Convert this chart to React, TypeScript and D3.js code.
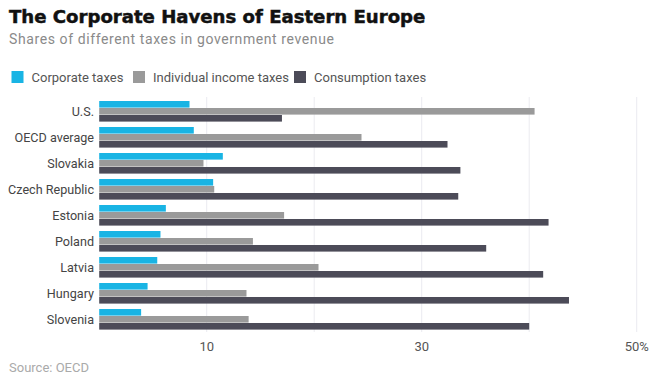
import React from 'react'
import { scaleBand, scaleLinear } from 'd3'

const countries = ['U.S.', 'OECD average', 'Slovakia', 'Czech Republic', 'Estonia', 'Poland', 'Latvia', 'Hungary', 'Slovenia']
const corporate = [8.4, 8.8, 11.5, 10.6, 6.2, 5.7, 5.4, 4.5, 3.9]
const individual = [40.5, 24.4, 9.7, 10.7, 17.2, 14.3, 20.4, 13.7, 13.9]
const consumption = [17.0, 32.4, 33.6, 33.4, 41.8, 36.0, 41.3, 43.7, 40.0]

const seriesNames = ['Corporate taxes', 'Individual income taxes', 'Consumption taxes']
const seriesColors = ['#19b4e4', '#9a9a9a', '#4c4b58']
const gridTicks = [10, 20, 30, 40, 50]
const tickLabels = [
  { v: 10, label: '10' },
  { v: 30, label: '30' },
  { v: 50, label: '50%' },
]

const font = 'Roboto, "Liberation Sans", sans-serif'

function App() {
  const width = 670
  const height = 384

  const x = scaleLinear().domain([0, 50]).range([99.2, 636.7])
  const y = scaleBand()
    .domain(countries)
    .range([98.5, 332.5])
    .paddingInner(5 / 26)
    .paddingOuter(2.5 / 26)
  const inner = scaleBand().domain(seriesNames).range([0, y.bandwidth()])

  const series = [corporate, individual, consumption]
  const legendX = [11.5, 133, 294]

  return (
    <svg
      width={width}
      height={height}
      style={{ position: 'absolute', left: 0, top: 0, background: '#fff' }}
      fontFamily={font}
    >
      <text
        x={9}
        y={23}
        fontSize={18.1}
        fontWeight={900}
        fontFamily='"DejaVu Sans", sans-serif'
        fill="#111"
        stroke="#111"
        strokeWidth={0.5}
      >
        The Corporate Havens of Eastern Europe
      </text>
      <text x={9} y={43.5} fontSize={14} letterSpacing={0.6} fill="#8a8a8a">
        Shares of different taxes in government revenue
      </text>

      {seriesNames.map((s, i) => (
        <g key={s}>
          <rect x={legendX[i]} y={71} width={12} height={12} fill={seriesColors[i]} />
          <text x={legendX[i] + 20} y={81.5} fontSize={13} fill="#555">
            {s}
          </text>
        </g>
      ))}

      {gridTicks.map(t => (
        <line key={t} x1={x(t)} x2={x(t)} y1={97} y2={332} stroke="#ebebf0" strokeWidth={1} />
      ))}

      {countries.map((c, ci) => (
        <g key={c} transform={`translate(0,${y(c)})`}>
          <text
            x={94}
            y={y.bandwidth() / 2}
            dy="0.35em"
            textAnchor="end"
            fontSize={12.6}
            fill="#444"
          >
            {c}
          </text>
          {seriesNames.map((s, si) => (
            <rect
              key={s}
              x={x(0)}
              y={inner(s)}
              width={x(series[si][ci]) - x(0)}
              height={inner.bandwidth() - 0.4}
              fill={seriesColors[si]}
            />
          ))}
        </g>
      ))}

      {tickLabels.map(t => (
        <text key={t.v} x={x(t.v)} y={351} textAnchor="middle" fontSize={13} fill="#555">
          {t.label}
        </text>
      ))}

      <text x={9} y={372} fontSize={13} fill="#aaa">
        Source: OECD
      </text>
    </svg>
  )
}

export default App
